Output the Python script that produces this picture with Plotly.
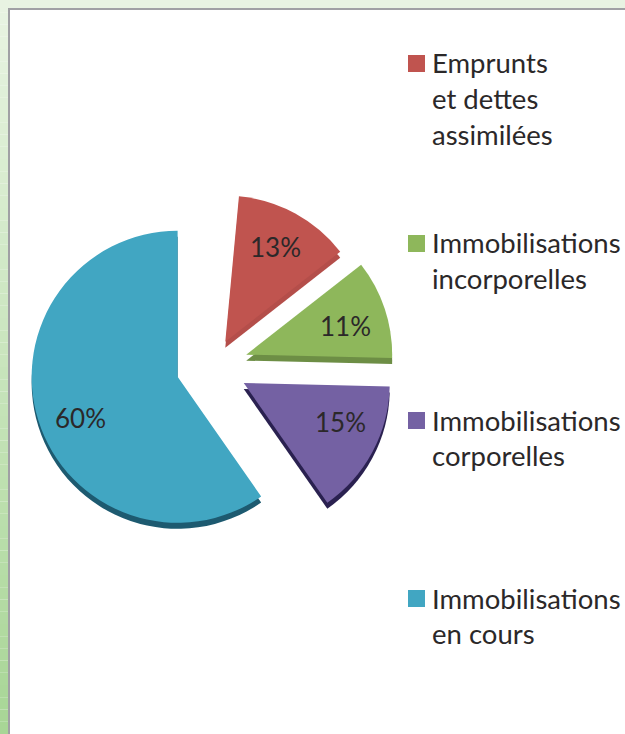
import plotly.graph_objects as go

W, H = 625, 734

categories = ["Reste (arrondi)", "Emprunts et dettes assimilées", "Immobilisations incorporelles",
              "Immobilisations corporelles", "Immobilisations en cours"]
values = [1.5, 13, 11, 15, 60]
pulls = [0, 0.19, 0.247, 0.247, 0.247]
colors = ["rgba(0,0,0,0)", "#c0544f", "#8eb75b", "#7461a3", "#41a6c2"]
dark_colors = ["rgba(0,0,0,0)", "#b44e4a", "#6d8e45", "#2a2150", "#1d5a70"]
legend_lines = [["Emprunts", "et dettes", "assimilées"],
                ["Immobilisations", "incorporelles"],
                ["Immobilisations", "corporelles"],
                ["Immobilisations", "en cours"]]
legend_tops = [63, 243, 420, 598]
label_positions = [(275, 247), (345, 326), (340, 422), (80, 418)]
LINE = 35.7
FONT = "Lato, 'Open Sans', sans-serif"
TXT = "#2b2829"


def px(x):
    return x / W


def py(y):
    return 1 - y / H


shapes = []
# page background gradient: pale green at the top to stronger green at the bottom
top, bot = (232, 243, 226), (168, 214, 150)
N = 60
for i in range(N):
    t = i / (N - 1)
    c = tuple(round(top[k] + (bot[k] - top[k]) * t) for k in range(3))
    shapes.append(dict(type="rect", xref="paper", yref="paper", layer="below",
                       x0=0, x1=1, y0=py(H * (i + 1) / N), y1=py(H * i / N),
                       fillcolor=f"rgb{c}", line_width=0))
# white panel with a grey edge
shapes.append(dict(type="rect", xref="paper", yref="paper", layer="below",
                   x0=px(9), x1=1.02, y0=-0.02, y1=py(9),
                   fillcolor="white", line=dict(color="#a0a0a4", width=2)))

annotations = []
for color, lines, y0 in zip(colors[1:], legend_lines, legend_tops):
    shapes.append(dict(type="rect", xref="paper", yref="paper",
                       x0=px(408), x1=px(425), y0=py(y0 + 9), y1=py(y0 - 8),
                       fillcolor=color, line_width=0))
    for i, line in enumerate(lines):
        annotations.append(dict(xref="paper", yref="paper", x=px(429.5), y=py(y0 + i * LINE),
                                xanchor="left", yanchor="middle", showarrow=False, text=line,
                                font=dict(family=FONT, size=27.5, color=TXT)))
for v, (x, y) in zip(values[1:], label_positions):
    annotations.append(dict(xref="paper", yref="paper", x=px(x), y=py(y),
                            xanchor="center", yanchor="middle", showarrow=False, text=f"{v}%",
                            font=dict(family=FONT, size=26, color=TXT)))

cx, cy, size = 212, 366, 364
depth = 6


def dom(yc):
    return dict(x=[px(cx - size / 2), px(cx + size / 2)],
                y=[py(yc + size / 2), py(yc - size / 2)])


common = dict(values=values, labels=categories, pull=pulls, sort=False, direction="clockwise",
              rotation=0, showlegend=False, textinfo="none")

fig = go.Figure()
fig.add_trace(go.Pie(**common, domain=dom(cy + depth), marker=dict(colors=dark_colors, line_width=0),
                     hoverinfo="skip"))
fig.add_trace(go.Pie(**common, domain=dom(cy), marker=dict(colors=colors, line_width=0)))
fig.update_layout(width=W, height=H, margin=dict(l=0, r=0, t=0, b=0), paper_bgcolor="white",
                  shapes=shapes, annotations=annotations)
fig.write_html("out.html", config={"displayModeBar": False},
               post_script="document.body.style.margin='0';document.body.style.overflow='hidden';")
